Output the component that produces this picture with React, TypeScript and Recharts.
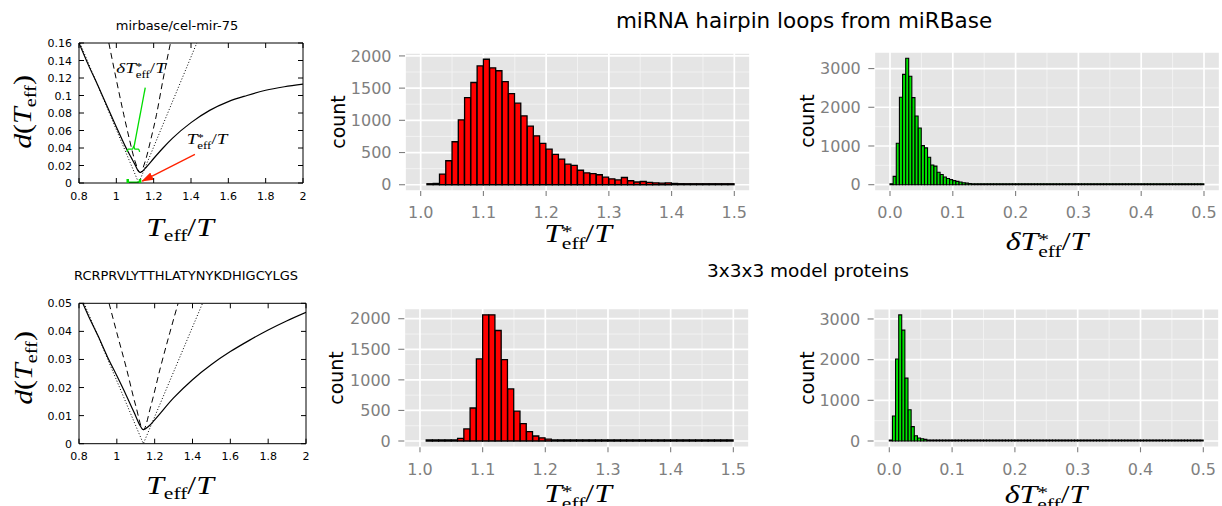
import React from "react";
import { Bar, BarChart, CartesianGrid, Line, LineChart, ReferenceLine, XAxis, YAxis } from "recharts";

const sans = '"DejaVu Sans", "Liberation Sans", sans-serif';
const serif = '"Liberation Serif", "DejaVu Serif", serif';
const green = "#00dd00";
const red = "#ff2200";

// histogram bins
const teffBinStart = 1.01;
const teffBinWidth = 0.01;
const deltaBinStart = 0;
const deltaBinWidth = 0.005;

// miRNA hairpin loops, T*_eff/T (bins of 0.01 from 1.01)
const mirnaTeffCounts = [
  5, 20, 165, 372, 667, 1008, 1354, 1587, 1845, 1948,
  1815, 1770, 1602, 1416, 1266, 1070, 910, 760, 641, 553,
  470, 398, 320, 300, 225, 185, 172, 155, 118, 92,
  75, 112, 62, 42, 50, 38, 30, 25, 28, 20,
  16, 15, 12, 12, 9, 8, 7, 6, 5,
];

// miRNA hairpin loops, delta T*_eff/T (bins of 0.005 from 0)
const mirnaDeltaCounts = [
  5, 215, 1070, 2260, 2850, 3265, 2800, 2250, 1775, 1465,
  1010, 950, 708, 510, 480, 320, 265, 198, 160, 130,
  104, 86, 70, 52, 40, 30, 26, 22, 18, 15,
  13, 12, 10, 10, 9, 8, 8, 7, 7, 6,
  6, 6, 5, 6, 5, 5, 4, 5, 4, 4,
  4, 5, 4, 3, 4, 4, 3, 4, 3, 3,
  4, 3, 3, 3, 4, 3, 3, 3, 2, 3,
  3, 3, 2, 3, 2, 3, 3, 2, 2, 3,
  2, 2, 3, 2, 2, 2, 3, 2, 2, 2,
  2, 2, 2, 3, 2, 2, 2, 2, 2, 3,
];

// 3x3x3 model proteins, T*_eff/T
const proteinTeffCounts = [
  1, 1, 2, 3, 15, 42, 197, 540, 1343, 2064,
  2064, 1807, 1330, 852, 487, 285, 153, 82, 52, 30,
  18, 12, 9, 7, 6, 4, 3, 3, 2, 2,
  2, 1, 2, 1, 1, 2, 1, 1, 1, 1,
  2, 1, 1, 1, 1, 1, 1, 1, 1,
];

// 3x3x3 model proteins, delta T*_eff/T
const proteinDeltaCounts = [
  4, 615, 2015, 3100, 2725, 1545, 770, 353, 130, 75,
  55, 40, 25, 18, 12, 9, 7, 5, 4, 3,
  3, 2, 2, 2, 2, 2, 1, 1, 2, 1,
  1, 1, 1, 1, 1, 1, 1, 1, 1, 1,
  1, 1, 1, 1, 1, 1, 1, 1, 1, 1,
  1, 1, 1, 1, 1, 1, 1, 1, 1, 1,
  1, 1, 1, 1, 1, 1, 1, 1, 1, 1,
  1, 1, 1, 1, 1, 1, 1, 1, 1, 1,
  1, 1, 1, 1, 1, 1, 1, 1, 1, 1,
  1, 1, 1, 1, 1, 1, 1, 1, 1, 1,
];

const teffTicks = [1.0, 1.1, 1.2, 1.3, 1.4, 1.5];
const teffMinor = [1.05, 1.15, 1.25, 1.35, 1.45];
const deltaTicks = [0, 0.1, 0.2, 0.3, 0.4, 0.5];
const deltaMinor = [0.05, 0.15, 0.25, 0.35, 0.45];
const countTicks2k = [0, 500, 1000, 1500, 2000];
const countMinor2k = [250, 750, 1250, 1750];
const countTicks3k = [0, 1000, 2000, 3000];
const countMinor3k = [500, 1500, 2500];

// d(T_eff) curves
const dTicksX = [0.8, 1, 1.2, 1.4, 1.6, 1.8, 2];
const mirDTicks = [0, 0.02, 0.04, 0.06, 0.08, 0.1, 0.12, 0.14, 0.16];
const protDTicks = [0, 0.01, 0.02, 0.03, 0.04, 0.05];

const mirSolid = [
  { x: 0.8, y: 0.16 }, { x: 0.85, y: 0.135 }, { x: 0.9, y: 0.112 }, { x: 0.95, y: 0.088 },
  { x: 1.0, y: 0.064 }, { x: 1.05, y: 0.041 }, { x: 1.08, y: 0.029 }, { x: 1.1, y: 0.021 },
  { x: 1.115, y: 0.0145 }, { x: 1.128, y: 0.012 }, { x: 1.14, y: 0.0135 }, { x: 1.16, y: 0.018 },
  { x: 1.2, y: 0.028 }, { x: 1.25, y: 0.04 }, { x: 1.3, y: 0.051 }, { x: 1.4, y: 0.069 },
  { x: 1.5, y: 0.083 }, { x: 1.6, y: 0.093 }, { x: 1.7, y: 0.1 }, { x: 1.8, y: 0.106 },
  { x: 1.9, y: 0.11 }, { x: 2.0, y: 0.113 },
];
const mirDashed = [
  { x: 0.96, y: 0.16 }, { x: 1.0, y: 0.118 }, { x: 1.04, y: 0.078 }, { x: 1.07, y: 0.05 },
  { x: 1.1, y: 0.025 }, { x: 1.128, y: 0.012 }, { x: 1.155, y: 0.025 }, { x: 1.185, y: 0.05 },
  { x: 1.215, y: 0.078 }, { x: 1.25, y: 0.118 }, { x: 1.29, y: 0.16 },
];
const mirDotted = [{ x: 0.805, y: 0.16 }, { x: 1.12, y: 0 }, { x: 1.431, y: 0.16 }];

const protSolid = [
  { x: 0.82, y: 0.05 }, { x: 0.85, y: 0.0455 }, { x: 0.9, y: 0.0385 }, { x: 0.95, y: 0.031 },
  { x: 1.0, y: 0.0242 }, { x: 1.05, y: 0.0172 }, { x: 1.1, y: 0.0098 }, { x: 1.12, y: 0.0068 },
  { x: 1.14, y: 0.005 }, { x: 1.17, y: 0.0063 }, { x: 1.2, y: 0.0085 }, { x: 1.3, y: 0.0163 },
  { x: 1.4, y: 0.0228 }, { x: 1.5, y: 0.0282 }, { x: 1.6, y: 0.0328 }, { x: 1.7, y: 0.0368 },
  { x: 1.8, y: 0.0405 }, { x: 1.9, y: 0.0438 }, { x: 2.0, y: 0.0468 },
];
const protDashed = [
  { x: 0.959, y: 0.05 }, { x: 1.0, y: 0.0395 }, { x: 1.05, y: 0.027 }, { x: 1.1, y: 0.0135 },
  { x: 1.14, y: 0.005 }, { x: 1.18, y: 0.0135 }, { x: 1.23, y: 0.027 }, { x: 1.28, y: 0.0395 },
  { x: 1.324, y: 0.05 },
];
const protDotted = [{ x: 0.827, y: 0.05 }, { x: 1.14, y: 0 }, { x: 1.453, y: 0.05 }];

// annotations on the miRNA d(T_eff) panel
const deltaLeader = [{ x: 1.155, y: 0.109 }, { x: 1.095, y: 0.0415 }];
const deltaBrace = [
  { x: 1.057, y: 0.0355 }, { x: 1.063, y: 0.0388 }, { x: 1.087, y: 0.0388 }, { x: 1.093, y: 0.042 },
  { x: 1.099, y: 0.0388 }, { x: 1.119, y: 0.0388 }, { x: 1.125, y: 0.0355 },
];
const deltaBar = [{ x: 1.061, y: 0 }, { x: 1.127, y: 0 }];
const starArrow = [{ x: 1.421, y: 0.0328 }, { x: 1.139, y: 0.0022 }];

type Pt = { x: number; y: number };

const GnuXTick = (props: any) => {
  const { x, y, payload, plotTop } = props;
  return (
    <g>
      <line x1={x} x2={x} y1={y} y2={y - 5} stroke="#000" />
      <line x1={x} x2={x} y1={plotTop} y2={plotTop + 5} stroke="#000" />
      <text x={x} y={y + 16.5} textAnchor="middle" fontFamily={sans} fontSize={11} fill="#000">
        {String(payload.value)}
      </text>
    </g>
  );
};

const GnuYTick = (props: any) => {
  const { x, y, payload, plotRight } = props;
  return (
    <g>
      <line x1={x} x2={x + 5} y1={y} y2={y} stroke="#000" />
      <line x1={plotRight} x2={plotRight - 5} y1={y} y2={y} stroke="#000" />
      <text x={x - 7} y={y + 4} textAnchor="end" fontFamily={sans} fontSize={11} fill="#000">
        {String(payload.value)}
      </text>
    </g>
  );
};

type CurveProps = {
  left: number; top: number; width: number; height: number;
  plotLeft: number; plotRight: number; plotTop: number; plotBottom: number;
  xDomain: [number, number]; yDomain: [number, number];
  xTicks: number[]; yTicks: number[];
  solid: Pt[]; dashed: Pt[]; dotted: Pt[];
  annotate?: boolean;
};

const CurvePanel = (p: CurveProps) => (
  <div style={{ position: "absolute", left: p.left, top: p.top }}>
    <LineChart
      width={p.width}
      height={p.height}
      margin={{ top: p.plotTop, right: p.width - p.plotRight, left: 0, bottom: 0 }}
    >
      <XAxis
        type="number" dataKey="x" domain={p.xDomain} ticks={p.xTicks} interval={0} allowDataOverflow
        height={p.height - p.plotBottom} tickSize={0} tickMargin={0} tickLine={false}
        axisLine={{ stroke: "#000" }} tick={<GnuXTick plotTop={p.plotTop} />}
      />
      <YAxis
        type="number" domain={p.yDomain} ticks={p.yTicks} interval={0} allowDataOverflow
        width={p.plotLeft} tickSize={0} tickMargin={0} tickLine={false}
        axisLine={{ stroke: "#000" }} tick={<GnuYTick plotRight={p.plotRight} />}
      />
      <ReferenceLine y={p.yDomain[1]} stroke="#000" />
      <ReferenceLine x={p.xDomain[1]} stroke="#000" />
      <Line data={p.dotted} dataKey="y" type="linear" stroke="#000" strokeWidth={1} strokeDasharray="1 2" dot={false} isAnimationActive={false} />
      <Line data={p.dashed} dataKey="y" type="monotone" stroke="#000" strokeWidth={1} strokeDasharray="6 4" dot={false} isAnimationActive={false} />
      <Line data={p.solid} dataKey="y" type="monotone" stroke="#000" strokeWidth={1.2} dot={false} isAnimationActive={false} />
      {p.annotate && (
        <Line data={deltaLeader} dataKey="y" type="linear" stroke={green} strokeWidth={1.3} dot={false} isAnimationActive={false} />
      )}
      {p.annotate && (
        <Line data={deltaBrace} dataKey="y" type="monotone" stroke={green} strokeWidth={1.3} dot={false} isAnimationActive={false} />
      )}
      {p.annotate && (
        <Line
          data={deltaBar} dataKey="y" type="linear" stroke={green} strokeWidth={3} isAnimationActive={false}
          dot={(d: any) => <line key={d.index} x1={d.cx} x2={d.cx} y1={d.cy - 4} y2={d.cy + 4} stroke={green} strokeWidth={2.5} />}
        />
      )}
      {p.annotate && (
        <Line
          data={starArrow} dataKey="y" type="linear" stroke={red} strokeWidth={1.3} dot={false}
          markerEnd="url(#starArrowHead)" isAnimationActive={false}
        />
      )}
    </LineChart>
  </div>
);

type HistProps = {
  left: number; top: number; width: number; height: number;
  plotLeft: number; plotRight: number; plotTop: number; plotBottom: number;
  binStart: number; binWidth: number; counts: number[];
  xDomain: [number, number]; yDomain: [number, number];
  xTicks: number[]; xMinor: number[]; yTicks: number[]; yMinor: number[];
  fill: string; barStroke: number;
};

const tickStyle = { fill: "#7F7F7F", fontSize: 16, fontFamily: sans };

const Histogram = (p: HistProps) => {
  const rows = p.counts.map((count, i) => ({ x: p.binStart + p.binWidth * (i + 0.5), count }));
  return (
    <div style={{ position: "absolute", left: p.left, top: p.top }}>
      <BarChart
        width={p.width}
        height={p.height}
        data={rows}
        margin={{ top: p.plotTop, right: p.width - p.plotRight, left: 0, bottom: 0 }}
        barCategoryGap={0}
        barGap={0}
      >
        <CartesianGrid fill="#E5E5E5" fillOpacity={1} stroke="#F2F2F2" strokeWidth={1} verticalValues={p.xMinor} horizontalValues={p.yMinor} />
        <CartesianGrid stroke="#FFFFFF" strokeWidth={1.7} />
        <XAxis
          type="number" dataKey="x" domain={p.xDomain} ticks={p.xTicks} interval={0} allowDataOverflow
          height={p.height - p.plotBottom} axisLine={false}
          tickLine={{ stroke: "#7F7F7F", strokeWidth: 1.1 }} tickSize={5} tickMargin={11}
          tick={tickStyle} tickFormatter={(v: number) => v.toFixed(1)}
        />
        <YAxis
          type="number" domain={p.yDomain} ticks={p.yTicks} interval={0} allowDataOverflow
          width={p.plotLeft} axisLine={false}
          tickLine={{ stroke: "#7F7F7F", strokeWidth: 1.1 }} tickSize={6} tickMargin={7.5}
          tick={tickStyle}
        />
        <Bar dataKey="count" fill={p.fill} stroke="#000" strokeWidth={p.barStroke} minPointSize={1} isAnimationActive={false} />
      </BarChart>
    </div>
  );
};

const Scripts = ({ sup, sub }: { sup?: string; sub: string }) =>
  sup ? (
    <span style={{ display: "inline-flex", flexDirection: "column", fontSize: "0.68em", lineHeight: 0.75, verticalAlign: "0.3em", fontStyle: "normal" }}>
      <span>{sup}</span>
      <span>{sub}</span>
    </span>
  ) : (
    <span style={{ fontSize: "0.68em", verticalAlign: "-0.3em", fontStyle: "normal" }}>{sub}</span>
  );

const MathLabel = ({ x, capTop, size, children, stretch = 1.27 }: { x: number; capTop: number; size: number; children: React.ReactNode; stretch?: number }) => (
  <div
    style={{
      position: "absolute", left: x, top: capTop - 0.175 * size, fontFamily: serif, fontSize: size,
      lineHeight: 1, whiteSpace: "nowrap", transform: `translateX(-50%) scaleX(${stretch})`, color: "#000",
    }}
  >
    {children}
  </div>
);

const RotLabel = ({ x, y, size, family, children, stretch = 1 }: { x: number; y: number; size: number; family: string; children: React.ReactNode; stretch?: number }) => (
  <div
    style={{
      position: "absolute", left: x, top: y, fontFamily: family, fontSize: size, lineHeight: 1,
      whiteSpace: "nowrap", transform: `translate(-50%, -50%) rotate(-90deg) scaleX(${stretch})`, color: "#000",
    }}
  >
    {children}
  </div>
);

const Title = ({ x, y, size, children }: { x: number; y: number; size: number; children: React.ReactNode }) => (
  <div
    style={{
      position: "absolute", left: x, top: y, fontFamily: sans, fontSize: size, lineHeight: 1,
      whiteSpace: "nowrap", transform: "translate(-50%, -50%)", color: "#000",
    }}
  >
    {children}
  </div>
);

const TeffOverT = () => (
  <>
    <i>T</i><Scripts sub="eff" />/<i>T</i>
  </>
);
const TeffStarOverT = ({ delta }: { delta?: boolean }) => (
  <>
    {delta && <i>δ</i>}
    <i>T</i><Scripts sup="*" sub="eff" />/<i>T</i>
  </>
);
const DOfTeff = () => (
  <>
    <i>d</i>(<i>T</i><Scripts sub="eff" />)
  </>
);

export default function App() {
  return (
    <div style={{ position: "absolute", left: 0, top: 0, width: 1222, height: 506, background: "#fff", overflow: "hidden" }}>
      <svg width={0} height={0} style={{ position: "absolute" }}>
        <defs>
          <marker id="starArrowHead" viewBox="0 0 12 8" refX="11" refY="4" markerWidth="12" markerHeight="8" markerUnits="userSpaceOnUse" orient="auto">
            <path d="M0,0 L12,4 L0,8 z" fill={red} />
          </marker>
        </defs>
      </svg>

      <Title x={804} y={21} size={21.5}>miRNA hairpin loops from miRBase</Title>
      <Title x={808} y={271} size={18.5}>3x3x3 model proteins</Title>
      <Title x={177} y={25} size={13}>mirbase/cel-mir-75</Title>
      <Title x={186} y={274.5} size={13}>RCRPRVLYTTHLATYNYKDHIGCYLGS</Title>

      <CurvePanel
        left={0} top={0} width={320} height={250}
        plotLeft={79} plotRight={303} plotTop={43} plotBottom={183}
        xDomain={[0.8, 2]} yDomain={[0, 0.16]} xTicks={dTicksX} yTicks={mirDTicks}
        solid={mirSolid} dashed={mirDashed} dotted={mirDotted} annotate
      />
      <CurvePanel
        left={0} top={255} width={320} height={251}
        plotLeft={79} plotRight={306} plotTop={48.3} plotBottom={188.7}
        xDomain={[0.8, 2]} yDomain={[0, 0.05]} xTicks={dTicksX} yTicks={protDTicks}
        solid={protSolid} dashed={protDashed} dotted={protDotted}
      />

      <Histogram
        left={320} top={30} width={440} height={220}
        plotLeft={85} plotRight={430} plotTop={23} plotBottom={161}
        binStart={teffBinStart} binWidth={teffBinWidth} counts={mirnaTeffCounts}
        xDomain={[0.975, 1.525]} yDomain={[-97.4, 2045.4]}
        xTicks={teffTicks} xMinor={teffMinor} yTicks={countTicks2k} yMinor={countMinor2k}
        fill="#ff0000" barStroke={1.3}
      />
      <Histogram
        left={760} top={30} width={462} height={220}
        plotLeft={114.3} plotRight={459.7} plotTop={22} plotBottom={161}
        binStart={deltaBinStart} binWidth={deltaBinWidth} counts={mirnaDeltaCounts}
        xDomain={[-0.025, 0.525]} yDomain={[-163, 3428]}
        xTicks={deltaTicks} xMinor={deltaMinor} yTicks={countTicks3k} yMinor={countMinor3k}
        fill="#00e400" barStroke={1.1}
      />
      <Histogram
        left={320} top={280} width={440} height={226}
        plotLeft={84.3} plotRight={429} plotTop={28.5} plotBottom={167.3}
        binStart={teffBinStart} binWidth={teffBinWidth} counts={proteinTeffCounts}
        xDomain={[0.975, 1.525]} yDomain={[-103, 2167]}
        xTicks={teffTicks} xMinor={teffMinor} yTicks={countTicks2k} yMinor={countMinor2k}
        fill="#ff0000" barStroke={1.3}
      />
      <Histogram
        left={760} top={280} width={462} height={226}
        plotLeft={113.6} plotRight={459} plotTop={28.6} plotBottom={167.3}
        binStart={deltaBinStart} binWidth={deltaBinWidth} counts={proteinDeltaCounts}
        xDomain={[-0.025, 0.525]} yDomain={[-155, 3255]}
        xTicks={deltaTicks} xMinor={deltaMinor} yTicks={countTicks3k} yMinor={countMinor3k}
        fill="#00e400" barStroke={1.1}
      />

      <RotLabel x={338} y={122} size={19} family={sans}>count</RotLabel>
      <RotLabel x={807} y={121} size={19} family={sans}>count</RotLabel>
      <RotLabel x={336} y={378} size={19} family={sans}>count</RotLabel>
      <RotLabel x={807} y={378} size={19} family={sans}>count</RotLabel>

      <RotLabel x={25} y={112} size={26} family={serif} stretch={1.15}><DOfTeff /></RotLabel>
      <RotLabel x={26} y={368} size={26} family={serif} stretch={1.15}><DOfTeff /></RotLabel>

      <MathLabel x={180} capTop={219} size={25}><TeffOverT /></MathLabel>
      <MathLabel x={180} capTop={477} size={25}><TeffOverT /></MathLabel>
      <MathLabel x={578} capTop={225} size={25}><TeffStarOverT /></MathLabel>
      <MathLabel x={1047} capTop={233} size={25}><TeffStarOverT delta /></MathLabel>
      <MathLabel x={578} capTop={485} size={25}><TeffStarOverT /></MathLabel>
      <MathLabel x={1046} capTop={486} size={25}><TeffStarOverT delta /></MathLabel>

      <MathLabel x={141} capTop={64} size={15}><TeffStarOverT delta /></MathLabel>
      <MathLabel x={207} capTop={135} size={15}><TeffStarOverT /></MathLabel>
    </div>
  );
}
